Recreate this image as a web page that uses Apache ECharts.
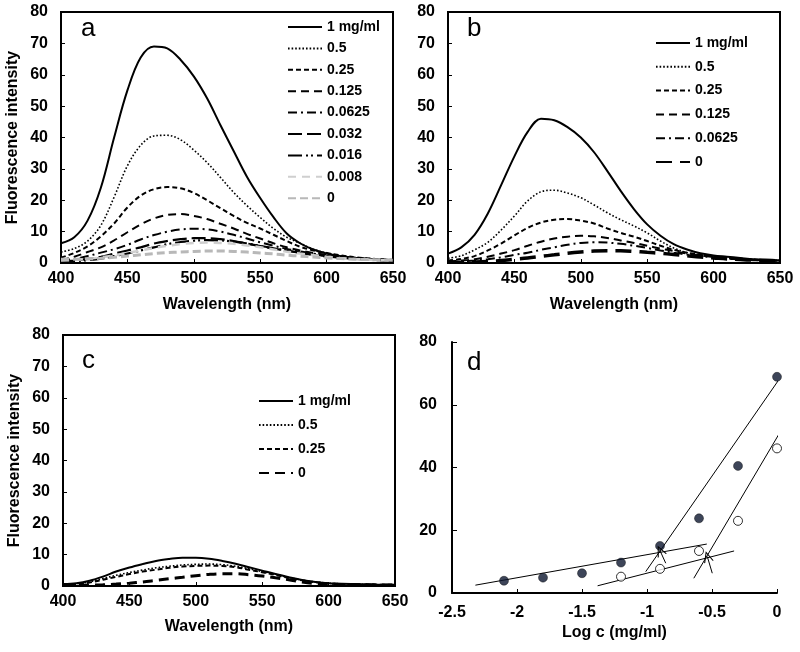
<!DOCTYPE html>
<html>
<head>
<meta charset="utf-8">
<script src="https://cdn.jsdelivr.net/npm/echarts@6/dist/echarts.min.js"></script>
<style>
html, body { margin: 0; padding: 0; background: #fff; }
#main { width: 800px; height: 652px; }
</style>
</head>
<body>
<div id="main"></div>
<script>
// wavelength grid (nm)
var wavelength = [400, 410, 420, 430, 440, 450, 460, 470, 480, 490, 500, 510, 520, 530, 540, 550, 560, 570, 580, 590, 600, 610, 620, 630, 640, 650];

// panel a
var aNames = ['1 mg/ml', '0.5', '0.25', '0.125', '0.0625', '0.032', '0.016', '0.008', '0'];
var a1 = [6.3, 8.2, 13.5, 24, 40, 55, 65.5, 69, 68.4, 64.8, 59.5, 52.5, 44, 35.7, 27.5, 20.7, 14.6, 9.4, 6.3, 4.3, 3, 2.2, 1.7, 1.4, 1.1, 0.9];
var a05 = [3.5, 4.6, 7, 12, 21, 31, 37.5, 40.5, 40.7, 39.3, 36, 32, 27.3, 22.5, 18.3, 14.5, 11, 8.2, 6.3, 4.4, 3.2, 2.3, 1.8, 1.4, 1.1, 0.9];
var a025 = [1.7, 3.2, 5.3, 8.5, 12.6, 17.7, 21.5, 23.5, 24.2, 23.8, 22.3, 20, 17.5, 15, 12.8, 11, 9, 7, 5.2, 4, 3.2, 2.5, 1.9, 1.5, 1.2, 1];
var a0125 = [1, 2, 3.5, 5, 7.2, 9.8, 12.3, 14.2, 15.3, 15.6, 15, 14, 12.5, 11, 9.3, 7.8, 6.3, 5, 4, 3.2, 2.6, 2, 1.6, 1.3, 1.1, 0.9];
var a00625 = [0.8, 1.3, 2.2, 3.3, 4.4, 5.8, 7.5, 8.9, 10, 10.7, 10.9, 10.7, 10, 9, 7.8, 6.6, 5.5, 4.5, 3.7, 3, 2.4, 1.9, 1.5, 1.2, 1, 0.8];
var a0032 = [0.5, 0.8, 1.3, 2, 3, 4, 5, 6.2, 7, 7.6, 7.9, 7.9, 7.6, 7, 6.2, 5.4, 4.6, 3.9, 3.2, 2.6, 2.1, 1.7, 1.4, 1.1, 0.9, 0.7];
var a0016 = [0.4, 0.6, 0.9, 1.4, 2.2, 3, 4, 5, 6, 6.7, 7.1, 7.3, 7.2, 6.8, 6.2, 5.5, 4.7, 4, 3.3, 2.7, 2.2, 1.8, 1.4, 1.1, 0.9, 0.7];
var a0008 = [0.8, 1, 1.3, 1.8, 2.4, 3.2, 4, 4.8, 5.5, 6, 6.4, 6.5, 6.4, 6.1, 5.6, 5, 4.3, 3.6, 3, 2.5, 2, 1.6, 1.3, 1.1, 0.9, 0.8];
var a0 = [1.2, 1.2, 1.3, 1.5, 1.8, 2.2, 2.6, 3, 3.3, 3.5, 3.7, 3.8, 3.8, 3.7, 3.5, 3.2, 2.9, 2.5, 2.2, 1.9, 1.6, 1.4, 1.2, 1.1, 1, 0.9];

// panel b
var bNames = ['1 mg/ml', '0.5', '0.25', '0.125', '0.0625', '0'];
var b1 = [3, 5, 9, 15.8, 24.8, 34, 41.8, 46, 45.5, 43.3, 40, 35.3, 29.3, 23, 17.2, 12.3, 8.7, 6, 4.3, 3.1, 2.4, 2, 1.6, 1.2, 1, 0.8];
var b05 = [1.5, 2.3, 4.2, 6.6, 10.5, 15, 19.8, 22.7, 23.2, 22.3, 20.8, 18.5, 16, 13.8, 11.8, 9.6, 7, 4.8, 3.3, 2.6, 2.1, 1.7, 1.4, 1.1, 0.9, 0.8];
var b025 = [0.8, 1.3, 2.2, 4, 6.2, 8.8, 11.2, 12.9, 13.8, 14, 13.5, 12.6, 11, 9.6, 8.4, 7, 5.5, 4.2, 3.3, 2.6, 2.1, 1.7, 1.4, 1.1, 0.9, 0.8];
var b0125 = [0.5, 0.8, 1.2, 2, 3, 4.1, 5.5, 6.8, 7.8, 8.4, 8.7, 8.5, 8, 7.2, 6.4, 5.5, 4.6, 3.8, 3, 2.4, 1.9, 1.5, 1.2, 1, 0.8, 0.7];
var b00625 = [0.3, 0.5, 0.8, 1.2, 1.8, 2.6, 3.3, 4.2, 5, 5.8, 6.4, 6.6, 6.5, 6.1, 5.5, 4.8, 4, 3.3, 2.7, 2.2, 1.8, 1.4, 1.1, 0.9, 0.8, 0.7];
var b0 = [0.2, 0.2, 0.3, 0.5, 0.8, 1.2, 1.6, 2.1, 2.6, 3.1, 3.5, 3.8, 3.9, 3.9, 3.7, 3.4, 3.1, 2.7, 2.3, 1.9, 1.6, 1.3, 1.1, 0.9, 0.8, 0.7];

// panel c
var cNames = ['1 mg/ml', '0.5', '0.25', '0'];
var c1 = [0.6, 0.9, 1.7, 3, 4.6, 5.9, 7, 8, 8.6, 9, 9, 8.7, 8, 7.1, 6, 4.9, 3.8, 2.8, 1.9, 1.3, 0.9, 0.7, 0.6, 0.5, 0.4, 0.4];
var c05 = [0.5, 0.7, 1.3, 2.4, 3.4, 4.3, 5.1, 5.8, 6.3, 6.7, 6.9, 7, 6.8, 6.3, 5.5, 4.6, 3.7, 2.7, 1.9, 1.3, 0.9, 0.7, 0.6, 0.5, 0.4, 0.4];
var c025 = [0.5, 0.6, 1.1, 2, 2.9, 3.8, 4.6, 5.2, 5.8, 6.2, 6.4, 6.5, 6.4, 6, 5.2, 4.4, 3.5, 2.6, 1.8, 1.2, 0.8, 0.6, 0.5, 0.5, 0.4, 0.4];
var c0 = [0.2, 0.2, 0.3, 0.4, 0.6, 0.9, 1.3, 1.8, 2.3, 2.8, 3.3, 3.7, 3.9, 3.9, 3.6, 3.2, 2.6, 2, 1.3, 0.8, 0.6, 0.5, 0.4, 0.4, 0.3, 0.3];

// panel d
var logC = [-2.1, -1.8, -1.5, -1.2, -0.9, -0.6, -0.3, 0];
var filledI = [3.9, 4.9, 6.3, 9.7, 15, 23.8, 40.5, 68.9];
var logCOpen = [-1.2, -0.9, -0.6, -0.3, 0];
var openI = [5.2, 7.7, 13.4, 23, 46.1];
var fitLowFilled = [[-2.32, 2.5], [-0.54, 15.6]];
var fitHighFilled = [[-1.01, 6.8], [0.08, 71.9]];
var fitLowOpen = [[-1.38, 2.3], [-0.33, 13.4]];
var fitHighOpen = [[-0.64, 4.7], [0.04, 52.4]];
var arrowLines = [[[-0.856, 9.5], [-0.9, 13.5]], [[-0.498, 6.3], [-0.536, 11.6]]];

var FONT = "'Liberation Sans', Arial, sans-serif";
var labelStyle = { color: '#000', fontSize: 16, fontWeight: 'bold', fontFamily: FONT };

function pairs(ys) {
  return wavelength.map(function (w, i) { return [w, ys[i]]; });
}

function curve(panel, name, ys, idx, style) {
  return {
    type: 'line',
    name: panel + '|' + name,
    xAxisIndex: idx,
    yAxisIndex: idx,
    data: pairs(ys),
    smooth: 0.35,
    symbol: 'none',
    itemStyle: { color: style.color },
    lineStyle: style
  };
}

var solid = { color: '#000', width: 2, type: 'solid' };
var dotted = { color: '#000', width: 1.6, type: [1.6, 2] };
var shortDash = { color: '#000', width: 2, type: [5, 3] };
var dash = { color: '#000', width: 2, type: [8, 5] };
var dashDot = { color: '#000', width: 2, type: [9, 4, 2, 4] };
var longDash = { color: '#000', width: 2.2, type: [14, 5] };
var longDashDotDot = { color: '#000', width: 2.2, type: [14, 4, 2, 3, 2, 4] };
var lightGrey = { color: '#cfcfcf', width: 2.5, type: [8, 6] };
var grey = { color: '#b8b8b8', width: 3, type: [8, 4] };

function xAx(idx, name, gap) {
  return {
    type: 'value', gridIndex: idx, min: 400, max: 650, interval: 50,
    name: name, nameLocation: 'middle', nameGap: gap,
    nameTextStyle: labelStyle,
    axisLine: { show: true, lineStyle: { color: '#000', width: 2 } },
    axisTick: { show: true, inside: true, length: 4, lineStyle: { color: '#000' } },
    axisLabel: Object.assign({ margin: 8 }, labelStyle),
    splitLine: { show: false }
  };
}
function yAx(idx, name) {
  return {
    type: 'value', gridIndex: idx, min: 0, max: 80, interval: 10,
    name: name, nameLocation: 'middle', nameGap: 40,
    nameTextStyle: labelStyle,
    axisLine: { show: true, lineStyle: { color: '#000', width: 2 } },
    axisTick: { show: true, inside: true, length: 4, lineStyle: { color: '#000' } },
    axisLabel: Object.assign({ margin: 13 }, labelStyle),
    splitLine: { show: false }
  };
}

function legendFor(panel, names, left, top, gap) {
  return {
    orient: 'vertical', left: left, top: top, padding: 0,
    itemWidth: 34, itemHeight: 14, itemGap: gap,
    itemStyle: { opacity: 0, borderWidth: 0 },
    data: names.map(function (n) { return panel + '|' + n; }),
    formatter: function (n) { return n.split('|')[1]; },
    textStyle: { color: '#000', fontSize: 14, fontWeight: 'bold', fontFamily: FONT },
    selectedMode: false
  };
}

var series = [
  curve('a', aNames[0], a1, 0, solid),
  curve('a', aNames[1], a05, 0, dotted),
  curve('a', aNames[2], a025, 0, shortDash),
  curve('a', aNames[3], a0125, 0, dash),
  curve('a', aNames[4], a00625, 0, dashDot),
  curve('a', aNames[5], a0032, 0, longDash),
  curve('a', aNames[6], a0016, 0, longDashDotDot),
  curve('a', aNames[7], a0008, 0, lightGrey),
  curve('a', aNames[8], a0, 0, grey),

  curve('b', bNames[0], b1, 1, solid),
  curve('b', bNames[1], b05, 1, dotted),
  curve('b', bNames[2], b025, 1, shortDash),
  curve('b', bNames[3], b0125, 1, dash),
  curve('b', bNames[4], b00625, 1, dashDot),
  curve('b', bNames[5], b0, 1, { color: '#000', width: 3.5, type: [16, 8] }),

  curve('c', cNames[0], c1, 2, solid),
  curve('c', cNames[1], c05, 2, dotted),
  curve('c', cNames[2], c025, 2, shortDash),
  curve('c', cNames[3], c0, 2, { color: '#000', width: 3, type: [10, 6] })
];

function fitLine(pts) {
  return {
    type: 'line', xAxisIndex: 3, yAxisIndex: 3, data: pts, symbol: 'none', clip: false,
    lineStyle: { color: '#000', width: 1 }, silent: true, z: 1
  };
}
series.push(fitLine(fitLowFilled), fitLine(fitHighFilled), fitLine(fitLowOpen), fitLine(fitHighOpen));
series.push({
  type: 'scatter', xAxisIndex: 3, yAxisIndex: 3,
  data: logC.map(function (x, i) { return [x, filledI[i]]; }),
  symbol: 'circle', symbolSize: 9, clip: false,
  itemStyle: { color: '#0c1630', borderColor: '#000', borderWidth: 0.5 }, z: 3,
  markLine: {
    silent: true, symbol: ['none', 'path://M0,12 L6,0 L12,12 L10.6,12 L6,2.6 L1.4,12 Z'], symbolSize: [10, 11],
    label: { show: false },
    lineStyle: { color: '#000', width: 1, type: 'solid' },
    data: arrowLines.map(function (a) { return [{ coord: a[0] }, { coord: a[1] }]; })
  }
});
series.push({
  type: 'scatter', xAxisIndex: 3, yAxisIndex: 3,
  data: logCOpen.map(function (x, i) { return [x, openI[i]]; }),
  symbol: 'circle', symbolSize: 9, clip: false,
  itemStyle: { color: '#fff', borderColor: '#000', borderWidth: 1 }, z: 3
});

var option = {
  backgroundColor: '#fff',
  animation: false,
  grid: [
    { left: 61, top: 12, width: 332, height: 251, show: true, borderColor: '#000', borderWidth: 2 },
    { left: 448, top: 12, width: 332, height: 251, show: true, borderColor: '#000', borderWidth: 2 },
    { left: 63, top: 335, width: 332, height: 251, show: true, borderColor: '#000', borderWidth: 2 },
    { left: 452, top: 342, width: 325, height: 251 }
  ],
  xAxis: [
    xAx(0, 'Wavelength (nm)', 34),
    xAx(1, 'Wavelength (nm)', 34),
    xAx(2, 'Wavelength (nm)', 33),
    {
      type: 'value', gridIndex: 3, min: -2.5, max: 0, interval: 0.5,
      name: 'Log c (mg/ml)', nameLocation: 'middle', nameGap: 32,
      nameTextStyle: labelStyle,
      axisLine: { show: true, onZero: false, lineStyle: { color: '#000', width: 2 } },
      axisTick: { show: true, inside: true, length: 4, lineStyle: { color: '#000' } },
      axisLabel: Object.assign({ margin: 12 }, labelStyle),
      splitLine: { show: false }
    }
  ],
  yAxis: [
    yAx(0, 'Fluorescence intensity'),
    yAx(1, ''),
    yAx(2, 'Fluorescence intensity'),
    {
      type: 'value', gridIndex: 3, min: 0, max: 80, interval: 20,
      axisLine: { show: true, onZero: false, lineStyle: { color: '#000', width: 2 } },
      axisTick: { show: true, inside: true, length: 5, lineStyle: { color: '#000' } },
      axisLabel: Object.assign({ margin: 15 }, labelStyle),
      splitLine: { show: false }
    }
  ],
  legend: [
    legendFor('a', aNames, 287, 20, 7.4),
    legendFor('b', bNames, 655, 36, 9.8),
    legendFor('c', cNames, 258, 394, 10)
  ],
  graphic: [
    { type: 'text', left: 81, top: 16, style: { text: 'a', font: "26px " + FONT, fill: '#000' } },
    { type: 'text', left: 467, top: 16, style: { text: 'b', font: "26px " + FONT, fill: '#000' } },
    { type: 'text', left: 82, top: 348, style: { text: 'c', font: "26px " + FONT, fill: '#000' } },
    { type: 'text', left: 467, top: 350, style: { text: 'd', font: "26px " + FONT, fill: '#000' } }
  ],
  series: series
};

var chart = echarts.init(document.getElementById('main'));
chart.setOption(option);
</script>
</body>
</html>
